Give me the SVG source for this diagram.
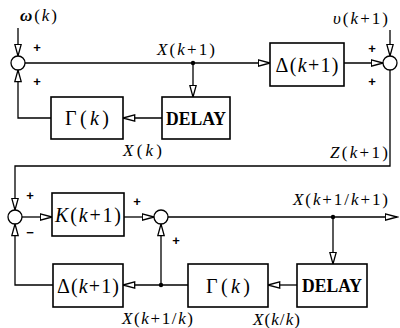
<svg xmlns="http://www.w3.org/2000/svg" width="400" height="328" viewBox="0 0 400 328">
  <style>
    .box { fill: #fff; stroke: #000; stroke-width: 1.6; }
    .sum { fill: #fff; stroke: #000; stroke-width: 1.3; }
    .wire { fill: none; stroke: #000; stroke-width: 1.3; }
    .arr { marker-end: url(#tri); }
    .dot { fill: #000; }
    .blk { font-family: "Liberation Serif", "Times New Roman", serif; font-size: 20px; fill: #000; text-anchor: middle; dominant-baseline: central; }
    .dly { font-family: "Liberation Serif", "Times New Roman", serif; font-size: 18px; font-weight: bold; fill: #000; text-anchor: middle; dominant-baseline: central; }
    .lbl { font-family: "Liberation Serif", "Times New Roman", serif; font-size: 17px; fill: #000; }
    .sgn { font-family: "Liberation Sans", Arial, sans-serif; font-size: 13px; font-weight: bold; fill: #000; text-anchor: middle; dominant-baseline: central; }
    .it { font-style: italic; }
  </style>
  <defs>
    <!-- hollow triangular arrowhead, tip at the end of the path -->
    <marker id="tri" markerUnits="userSpaceOnUse" markerWidth="14" markerHeight="9" refX="12.5" refY="4" orient="auto">
      <path d="M0.8,0.8 L12.5,4 L0.8,7.2 Z" fill="#fff" stroke="#000" stroke-width="1.3"/>
    </marker>
  </defs>

  <!-- connectors -->
  <g id="connectors">
    <!-- upper loop: state propagation -->
    <path class="wire arr" d="M18,28 V56"/>
    <path class="wire arr" d="M25,63 H270"/>
    <path class="wire arr" d="M193,63 V97"/>
    <path class="wire arr" d="M162,118 H123"/>
    <path class="wire arr" d="M51,118 H18 V70"/>
    <path class="wire arr" d="M344,63 H383"/>
    <path class="wire arr" d="M390,30 V56"/>
    <path class="wire arr" d="M390,70 V166 H15 V210"/>
    <!-- lower loop: filter -->
    <path class="wire arr" d="M22,217 H52"/>
    <path class="wire arr" d="M124,217 H154"/>
    <path class="wire arr" d="M168,217 H397"/>
    <path class="wire arr" d="M333,217 V264"/>
    <path class="wire arr" d="M297,285 H268"/>
    <path class="wire arr" d="M188,285 H123"/>
    <path class="wire arr" d="M161,285 V224"/>
    <path class="wire arr" d="M53,285 H15 V224"/>
    <circle class="dot" cx="193" cy="63" r="2.2"/>
    <circle class="dot" cx="333" cy="217" r="2.2"/>
    <circle class="dot" cx="161" cy="285" r="2.2"/>
  </g>

  <!-- summing junctions -->
  <g id="sum1">
    <circle class="sum" cx="18" cy="63" r="7"/>
    <text class="sgn" x="37" y="47">+</text>
    <text class="sgn" x="37" y="81">+</text>
  </g>
  <g id="sum2">
    <circle class="sum" cx="390" cy="63" r="7"/>
    <text class="sgn" x="372" y="48">+</text>
    <text class="sgn" x="372" y="81">+</text>
  </g>
  <g id="sum3">
    <circle class="sum" cx="15" cy="217" r="7"/>
    <text class="sgn" x="30" y="195">+</text>
    <text class="sgn" x="30" y="232">−</text>
  </g>
  <g id="sum4">
    <circle class="sum" cx="161" cy="217" r="7"/>
    <text class="sgn" x="137" y="201">+</text>
    <text class="sgn" x="176" y="240">+</text>
  </g>

  <!-- blocks -->
  <g id="gamma-top">
    <rect class="box" x="51" y="97" width="72" height="42"/>
    <text class="blk" x="87" y="118" textLength="44" lengthAdjust="spacing">Γ(<tspan class="it">k</tspan>)</text>
  </g>
  <g id="delay-top">
    <rect class="box" x="162" y="97" width="68" height="42"/>
    <text class="dly" x="196" y="119" textLength="60" lengthAdjust="spacingAndGlyphs">DELAY</text>
  </g>
  <g id="delta-top">
    <rect class="box" x="270" y="43" width="74" height="43"/>
    <text class="blk" x="307" y="65" textLength="63" lengthAdjust="spacing">Δ(<tspan class="it">k</tspan>+1)</text>
  </g>
  <g id="gain">
    <rect class="box" x="52" y="193" width="72" height="43"/>
    <text class="blk" x="88" y="215" textLength="66" lengthAdjust="spacing"><tspan class="it">K</tspan>(<tspan class="it">k</tspan>+1)</text>
  </g>
  <g id="delta-bottom">
    <rect class="box" x="53" y="264" width="70" height="43"/>
    <text class="blk" x="88" y="286" textLength="62" lengthAdjust="spacing">Δ(<tspan class="it">k</tspan>+1)</text>
  </g>
  <g id="gamma-bottom">
    <rect class="box" x="188" y="264" width="80" height="43"/>
    <text class="blk" x="228" y="286" textLength="44" lengthAdjust="spacing">Γ(<tspan class="it">k</tspan>)</text>
  </g>
  <g id="delay-bottom">
    <rect class="box" x="297" y="264" width="70" height="43"/>
    <text class="dly" x="332" y="286" textLength="60" lengthAdjust="spacingAndGlyphs">DELAY</text>
  </g>

  <!-- signal labels -->
  <g id="labels">
    <text class="lbl" x="20" y="21" textLength="37" lengthAdjust="spacing"><tspan class="it" font-weight="bold">ω</tspan>(<tspan class="it">k</tspan>)</text>
    <text class="lbl" x="157" y="55" textLength="58" lengthAdjust="spacing"><tspan class="it">X</tspan>(<tspan class="it">k</tspan>+1)</text>
    <text class="lbl" x="123" y="156" textLength="39" lengthAdjust="spacing"><tspan class="it">X</tspan>(<tspan class="it">k</tspan>)</text>
    <text class="lbl" x="333" y="24" textLength="55" lengthAdjust="spacing"><tspan class="it">υ</tspan>(<tspan class="it">k</tspan>+1)</text>
    <text class="lbl" x="330" y="158" textLength="58" lengthAdjust="spacing"><tspan class="it">Z</tspan>(<tspan class="it">k</tspan>+1)</text>
    <text class="lbl" x="293" y="205" textLength="95" lengthAdjust="spacing"><tspan class="it">X</tspan>(<tspan class="it">k</tspan>+1/<tspan class="it">k</tspan>+1)</text>
    <text class="lbl" x="122" y="324" textLength="71" lengthAdjust="spacing"><tspan class="it">X</tspan>(<tspan class="it">k</tspan>+1/<tspan class="it">k</tspan>)</text>
    <text class="lbl" x="253" y="325" textLength="47" lengthAdjust="spacing"><tspan class="it">X</tspan>(<tspan class="it">k</tspan>/<tspan class="it">k</tspan>)</text>
  </g>
</svg>
